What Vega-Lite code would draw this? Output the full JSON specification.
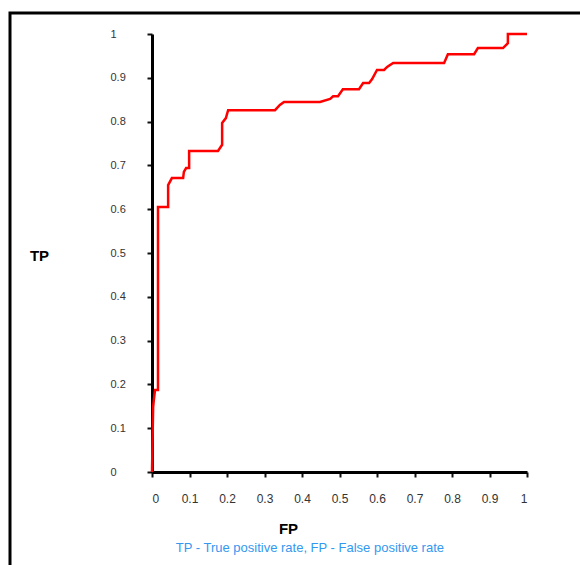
{
  "$schema": "https://vega.github.io/schema/vega-lite/v6.json",
  "width": 600,
  "height": 600,
  "padding": {"left": 10, "top": 13, "right": 0, "bottom": 0},
  "background": "white",
  "config": {
    "view": {"stroke": "black", "strokeWidth": 3},
    "font": "Liberation Sans"
  },
  "layer": [
    {
      "data": {
        "values": [
          {"fp": 0, "tp": 0},
          {"fp": 0.003, "tp": 0.148},
          {"fp": 0.005, "tp": 0.165},
          {"fp": 0.008, "tp": 0.187},
          {"fp": 0.016, "tp": 0.187},
          {"fp": 0.016, "tp": 0.605},
          {"fp": 0.043, "tp": 0.605},
          {"fp": 0.043, "tp": 0.655},
          {"fp": 0.053, "tp": 0.671},
          {"fp": 0.083, "tp": 0.671},
          {"fp": 0.085, "tp": 0.685},
          {"fp": 0.091, "tp": 0.694},
          {"fp": 0.099, "tp": 0.694},
          {"fp": 0.099, "tp": 0.733},
          {"fp": 0.176, "tp": 0.733},
          {"fp": 0.187, "tp": 0.747},
          {"fp": 0.187, "tp": 0.797},
          {"fp": 0.197, "tp": 0.808},
          {"fp": 0.203, "tp": 0.826},
          {"fp": 0.328, "tp": 0.826},
          {"fp": 0.341, "tp": 0.838},
          {"fp": 0.352, "tp": 0.845},
          {"fp": 0.448, "tp": 0.845},
          {"fp": 0.475, "tp": 0.852},
          {"fp": 0.483, "tp": 0.858},
          {"fp": 0.496, "tp": 0.858},
          {"fp": 0.509, "tp": 0.874},
          {"fp": 0.552, "tp": 0.874},
          {"fp": 0.563, "tp": 0.888},
          {"fp": 0.579, "tp": 0.888},
          {"fp": 0.587, "tp": 0.897},
          {"fp": 0.6, "tp": 0.918},
          {"fp": 0.619, "tp": 0.918},
          {"fp": 0.627, "tp": 0.925},
          {"fp": 0.643, "tp": 0.934},
          {"fp": 0.779, "tp": 0.934},
          {"fp": 0.789, "tp": 0.954},
          {"fp": 0.859, "tp": 0.954},
          {"fp": 0.869, "tp": 0.968},
          {"fp": 0.936, "tp": 0.968},
          {"fp": 0.949, "tp": 0.979},
          {"fp": 0.949, "tp": 1.0},
          {"fp": 1.0, "tp": 1.0}
        ]
      },
      "mark": {"type": "line", "color": "#ff0000", "strokeWidth": 2.5, "clip": false},
      "encoding": {
        "x": {
          "field": "fp",
          "type": "quantitative",
          "scale": {"domain": [0, 1], "range": [142, 517], "nice": false, "zero": false},
          "axis": {
            "offset": -141,
            "values": [0, 0.1, 0.2, 0.3, 0.4, 0.5, 0.6, 0.7, 0.8, 0.9, 1],
            "format": "~g",
            "grid": false,
            "domainColor": "black",
            "domainWidth": 3,
            "tickColor": "#111",
            "tickWidth": 2,
            "tickSize": 5,
            "labelFontSize": 12,
            "labelColor": "#333",
            "labelPadding": 16,
            "title": "FP",
            "titleFontSize": 15,
            "titleFontWeight": "bold",
            "titleColor": "black",
            "titleX": 278,
            "titleY": 56,
            "titleAlign": "center",
            "titleBaseline": "middle"
          }
        },
        "y": {
          "field": "tp",
          "type": "quantitative",
          "scale": {"domain": [0, 1], "range": [459, 21], "nice": false, "zero": false},
          "axis": {
            "offset": -142,
            "values": [0, 0.1, 0.2, 0.3, 0.4, 0.5, 0.6, 0.7, 0.8, 0.9, 1],
            "format": "~g",
            "grid": false,
            "domainColor": "black",
            "domainWidth": 3,
            "tickColor": "#111",
            "tickWidth": 2,
            "tickSize": 5,
            "labelFontSize": 11,
            "labelColor": "#333",
            "labelAlign": "left",
            "labelPadding": 37,
            "title": "TP",
            "titleFontSize": 15,
            "titleFontWeight": "bold",
            "titleColor": "black",
            "titleAngle": 0,
            "titleX": -113,
            "titleY": 242,
            "titleAlign": "center",
            "titleBaseline": "middle"
          }
        },
        "order": {"value": null}
      }
    },
    {
      "data": {"values": [{"caption": "TP - True positive rate, FP - False positive rate"}]},
      "mark": {"type": "text", "color": "#3399f0", "fontSize": 13, "align": "center", "baseline": "middle"},
      "encoding": {
        "text": {"field": "caption", "type": "nominal"},
        "x": {"datum": 0.421, "type": "quantitative"},
        "y": {"datum": -0.1735, "type": "quantitative"}
      }
    }
  ]
}
